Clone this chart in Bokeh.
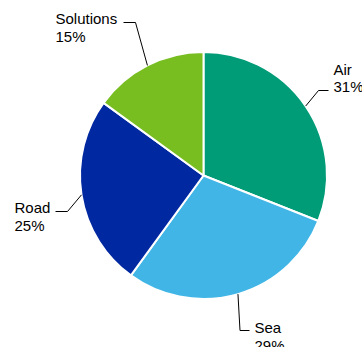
import math
from bokeh.plotting import figure
from bokeh.models import Range1d, ColumnDataSource
from bokeh.core.properties import value
from bokeh.embed import file_html
from bokeh.resources import INLINE

# ---- data ----
categories = ["Air", "Sea", "Road", "Solutions"]
shares = [31, 29, 25, 15]
labels_pct = ["31%", "29%", "25%", "15%"]

# ---- styles / layout ----
colors = ["#009B77", "#41B6E6", "#0028A0", "#78BE20"]
W, H = 362, 347
CX, CY = 203, 175          # pie centre, pixel coords (y down)
R = 123.5
FONT = "Liberation Sans"
FS = "15px"
LINE_GAP = 17.5
TEXT_SHIFT = -5            # baseline correction
# leader elbow / end points and text anchor, pixel coords (y down)
label_layout = {
    "Air":       dict(elbow=(318, 90),  end=(328, 90),  text=(333, 73.5)),
    "Sea":       dict(elbow=(239.5, 330), end=(249, 330), text=(254, 332)),
    "Road":      dict(elbow=(67, 211),  end=(55, 211),  text=(14, 212)),
    "Solutions": dict(elbow=(135, 22),  end=(123, 22),  text=(55, 23)),
}

def fy(y):
    return H - y

total = float(sum(shares))
starts, ends, mids = [], [], []
cum = 0.0
for s in shares:
    a0 = math.pi / 2 - 2 * math.pi * cum / total
    cum += s
    a1 = math.pi / 2 - 2 * math.pi * cum / total
    starts.append(a0)
    ends.append(a1)
    mids.append((a0 + a1) / 2)

src = ColumnDataSource(dict(cat=categories, start=starts, end=ends, color=colors))

p = figure(width=W, height=H, x_range=Range1d(0, W), y_range=Range1d(0, H),
           x_axis_type=None, y_axis_type=None, toolbar_location=None,
           output_backend="svg", min_border=0)
p.outline_line_color = None
p.grid.visible = False
p.background_fill_color = "white"
p.border_fill_color = "white"

p.wedge(x=CX, y=fy(CY), radius=R, start_angle="start", end_angle="end",
        direction="clock", fill_color="color", line_color="white", line_width=2,
        source=src)

# leader lines
xs, ys = [], []
tx, ty1, ty2, t1, t2 = [], [], [], [], []
for cat, pct, m in zip(categories, labels_pct, mids):
    lay = label_layout[cat]
    ex = CX + R * math.cos(m)
    ey = fy(CY) + R * math.sin(m)
    xs.append([ex, lay["elbow"][0], lay["end"][0]])
    ys.append([ey, fy(lay["elbow"][1]), fy(lay["end"][1])])
    tx.append(lay["text"][0])
    ty1.append(fy(lay["text"][1] + TEXT_SHIFT))
    ty2.append(fy(lay["text"][1] + LINE_GAP + TEXT_SHIFT))
    t1.append(cat)
    t2.append(pct)

p.multi_line(xs=xs, ys=ys, line_color="#000000", line_width=1)
p.text(x=tx, y=ty1, text=t1, text_font=value(FONT), text_font_size=FS,
       text_color="#000000", text_baseline="alphabetic", text_align="left")
p.text(x=tx, y=ty2, text=t2, text_font=value(FONT), text_font_size=FS,
       text_color="#000000", text_baseline="alphabetic", text_align="left")

open("out.html", "w").write(file_html(p, INLINE))
